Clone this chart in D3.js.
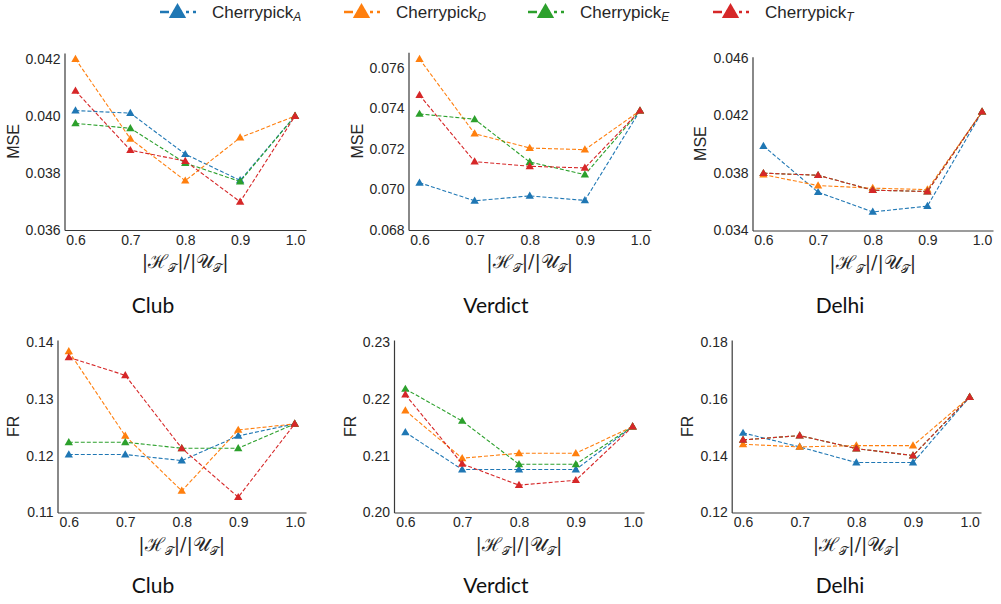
<!DOCTYPE html>
<html>
<head>
<meta charset="utf-8">
<script src="https://cdn.jsdelivr.net/npm/d3@7"></script>
<style>
  html, body { margin: 0; padding: 0; background: #fff; }
  svg { display: block; }
</style>
</head>
<body>
<svg id="chart" width="1001" height="604"></svg>
<script>
// ---------------- DATA ----------------
const xValues = [0.6, 0.7, 0.8, 0.9, 1.0];
const xTicks = [0.6, 0.7, 0.8, 0.9, 1.0];
const seriesKeys = ["A", "D", "E", "T"];
const seriesColors = ["#1f77b4", "#ff7f0e", "#2ca02c", "#d62728"];
const datasets = ["Club", "Verdict", "Delhi"];
const metrics = ["MSE", "FR"];

// MSE
const clubMSE_A = [0.04019, 0.04010, 0.03866, 0.03774, 0.04000];
const clubMSE_D = [0.04200, 0.03920, 0.03773, 0.03924, 0.04000];
const clubMSE_E = [0.03974, 0.03957, 0.03835, 0.03770, 0.04000];
const clubMSE_T = [0.04088, 0.03880, 0.03842, 0.03699, 0.04000];

const verdictMSE_A = [0.07033, 0.06944, 0.06968, 0.06946, 0.07388];
const verdictMSE_D = [0.07643, 0.07275, 0.07204, 0.07196, 0.07388];
const verdictMSE_E = [0.07372, 0.07346, 0.07135, 0.07073, 0.07388];
const verdictMSE_T = [0.07465, 0.07137, 0.07114, 0.07106, 0.07388];

const delhiMSE_A = [0.03987, 0.03666, 0.03529, 0.03569, 0.04225];
const delhiMSE_D = [0.03788, 0.03712, 0.03694, 0.03684, 0.04225];
const delhiMSE_E = [0.03798, 0.03784, 0.03680, 0.03671, 0.04225];
const delhiMSE_T = [0.03798, 0.03784, 0.03680, 0.03671, 0.04225];

// FR
const clubFR_A = [0.12018, 0.12018, 0.11912, 0.12345, 0.12556];
const clubFR_D = [0.13830, 0.12345, 0.11380, 0.12450, 0.12556];
const clubFR_E = [0.12234, 0.12234, 0.12129, 0.12129, 0.12556];
const clubFR_T = [0.13725, 0.13410, 0.12129, 0.11269, 0.12556];

const verdictFR_A = [0.21409, 0.20754, 0.20754, 0.20754, 0.21509];
const verdictFR_D = [0.21790, 0.20953, 0.21041, 0.21041, 0.21509];
const verdictFR_E = [0.22170, 0.21608, 0.20848, 0.20848, 0.21509];
const verdictFR_T = [0.22070, 0.20854, 0.20480, 0.20567, 0.21509];

const delhiFR_A = [0.14795, 0.14304, 0.13754, 0.13754, 0.16058];
const delhiFR_D = [0.14398, 0.14304, 0.14351, 0.14351, 0.16058];
const delhiFR_E = [0.14550, 0.14702, 0.14246, 0.14000, 0.16058];
const delhiFR_T = [0.14550, 0.14702, 0.14246, 0.14000, 0.16058];

// y-axis limits and ticks
const yLimits = [
  [0.036, 0.04221], [0.068, 0.07676], [0.034, 0.04607],
  [0.11, 0.1403], [0.20, 0.2303], [0.12, 0.1806]
];
const yTicks = [
  [0.036, 0.038, 0.040, 0.042],
  [0.068, 0.070, 0.072, 0.074, 0.076],
  [0.034, 0.038, 0.042, 0.046],
  [0.11, 0.12, 0.13, 0.14],
  [0.20, 0.21, 0.22, 0.23],
  [0.12, 0.14, 0.16, 0.18]
];
const yTickFormats = [".3f", ".3f", ".3f", ".2f", ".2f", ".2f"];

const panelSeries = [
  [clubMSE_A, clubMSE_D, clubMSE_E, clubMSE_T],
  [verdictMSE_A, verdictMSE_D, verdictMSE_E, verdictMSE_T],
  [delhiMSE_A, delhiMSE_D, delhiMSE_E, delhiMSE_T],
  [clubFR_A, clubFR_D, clubFR_E, clubFR_T],
  [verdictFR_A, verdictFR_D, verdictFR_E, verdictFR_T],
  [delhiFR_A, delhiFR_D, delhiFR_E, delhiFR_T]
];

// ---------------- LAYOUT ----------------
const layout = [
  {left: 64.5, right: 306, top: 53, bottom: 230, ylabX: 13, titleX: 153, titleY: 313},
  {left: 408.5, right: 651, top: 52.3, bottom: 230, ylabX: 357, titleX: 496, titleY: 313},
  {left: 752.5, right: 993, top: 56.7, bottom: 230.5, ylabX: 700, titleX: 840, titleY: 313},
  {left: 57.5, right: 306, top: 340, bottom: 512.5, ylabX: 13, titleX: 153, titleY: 593},
  {left: 394, right: 644, top: 340, bottom: 512.5, ylabX: 350, titleX: 496, titleY: 593},
  {left: 731.7, right: 981, top: 340, bottom: 512.5, ylabX: 687, titleX: 840, titleY: 593}
];

const svg = d3.select("#chart");
const tickFont = "'Liberation Sans', Arial, sans-serif";
const axisColor = "#3a3a3a";

function triangle(size) {
  return d3.symbol().type(d3.symbolTriangle).size(size)();
}

layout.forEach((L, i) => {
  const g = svg.append("g");
  const x = d3.scaleLinear().domain([0.58, 1.02]).range([L.left, L.right]);
  const y = d3.scaleLinear().domain(yLimits[i]).range([L.bottom, L.top]);

  const xAxis = d3.axisBottom(x).tickValues(xTicks).tickFormat(d3.format(".1f")).tickSize(0).tickPadding(5);
  const yAxis = d3.axisLeft(y).tickValues(yTicks[i]).tickFormat(d3.format(yTickFormats[i])).tickSize(0).tickPadding(4);

  const gx = g.append("g").attr("transform", `translate(0,${L.bottom})`).call(xAxis);
  const gy = g.append("g").attr("transform", `translate(${L.left},0)`).call(yAxis);
  [gx, gy].forEach(a => {
    a.select(".domain").attr("stroke", axisColor).attr("stroke-width", 1.2);
    a.selectAll("text").attr("font-family", tickFont).attr("font-size", 14).attr("fill", "#262626");
  });

  const line = d3.line().x((d, j) => x(xValues[j])).y(d => y(d));
  panelSeries[i].forEach((vals, s) => {
    g.append("path")
      .attr("d", line(vals))
      .attr("fill", "none")
      .attr("stroke", seriesColors[s])
      .attr("stroke-width", 1.1)
      .attr("stroke-dasharray", "4,2");
    g.selectAll(null).data(vals).enter().append("path")
      .attr("d", triangle(30))
      .attr("transform", (d, j) => `translate(${x(xValues[j])},${y(d) + 0.5})`)
      .attr("fill", seriesColors[s]);
  });

  g.append("text")
    .attr("transform", `translate(${L.ylabX + 6},${(L.top + L.bottom) / 2}) rotate(-90)`)
    .attr("text-anchor", "middle")
    .attr("font-family", tickFont)
    .attr("font-size", 16)
    .attr("fill", "#262626")
    .text(metrics[Math.floor(i / 3)]);

  const xl = g.append("text")
    .attr("x", (L.left + L.right) / 2)
    .attr("y", L.bottom + 38)
    .attr("text-anchor", "middle")
    .attr("font-family", "'DejaVu Serif', serif")
    .attr("font-size", 19)
    .attr("fill", "#262626");
  xl.append("tspan").text("|\u210B");
  xl.append("tspan").attr("font-size", 12).attr("dy", 4).text("\uD835\uDCAF");
  xl.append("tspan").attr("dy", -4).text("|/|\uD835\uDCB0");
  xl.append("tspan").attr("font-size", 12).attr("dy", 4).text("\uD835\uDCAF");
  xl.append("tspan").attr("dy", -4).text("|");

  g.append("text")
    .attr("x", L.titleX)
    .attr("y", L.titleY)
    .attr("text-anchor", "middle")
    .attr("font-family", "Lato, sans-serif")
    .attr("font-size", 21)
    .attr("fill", "#111")
    .text(datasets[i % 3]);
});

// ---------------- LEGEND ----------------
const legendX = [160, 344, 528, 713];
const legend = svg.append("g");
seriesKeys.forEach((k, s) => {
  const lx = legendX[s];
  const ly = 12;
  legend.append("line")
    .attr("x1", lx).attr("x2", lx + 36)
    .attr("y1", ly).attr("y2", ly)
    .attr("stroke", seriesColors[s])
    .attr("stroke-width", 2.6)
    .attr("stroke-dasharray", "9,4,9,4,3,4");
  legend.append("path")
    .attr("d", triangle(130))
    .attr("transform", `translate(${lx + 17.5},${ly + 1})`)
    .attr("fill", seriesColors[s]);
  const t = legend.append("text")
    .attr("x", lx + 52)
    .attr("y", ly + 6)
    .attr("font-family", tickFont)
    .attr("font-size", 17)
    .attr("fill", "#262626");
  t.append("tspan").text("Cherrypick");
  t.append("tspan").attr("font-size", 12).attr("font-style", "italic").attr("dy", 3).text(k);
});
</script>
</body>
</html>
